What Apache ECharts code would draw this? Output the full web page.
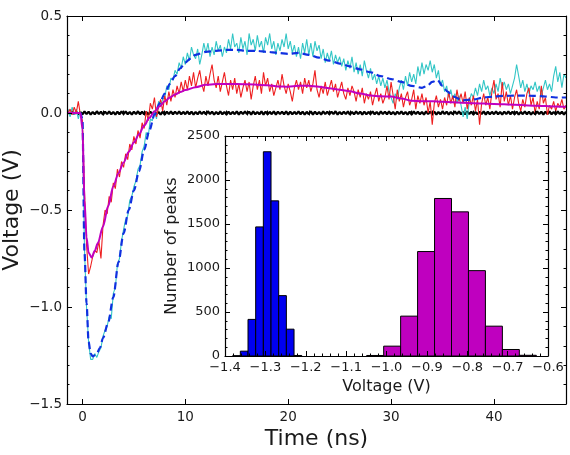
<!DOCTYPE html>
<html>
<head>
<meta charset="utf-8">
<script src="https://cdn.jsdelivr.net/npm/echarts@6/dist/echarts.min.js"></script>
<style>html,body{margin:0;padding:0;background:#fff;}#chart{width:570px;height:455px;}</style>
</head>
<body>
<div id="chart"></div>
<script>
// ---- sampled traces: t = timeStart + i*timeStep ----
const timeStart = -1.4;
const timeStep = 0.2;

const cyanTrace = [
0.02,-0.02,0.03,-0.01,0.02,-0.03,0.01,
-0.05,-0.70,-1.00,-1.18,-1.27,
-1.27,-1.24,-1.26,-1.23,-1.21,
-1.15,-1.12,-1.10,-1.05,-1.06,
-0.93,-0.90,-0.78,-0.75,-0.66,
-0.60,-0.55,-0.53,-0.45,-0.43,
-0.38,-0.35,-0.29,-0.27,-0.20,
-0.17,-0.10,-0.12,-0.03,-0.04,
0.01,-0.03,0.06,0.04,0.07,
0.08,0.14,0.12,0.18,0.17,
0.22,0.20,0.26,0.23,0.29,
0.25,0.31,0.27,0.34,0.30,
0.28,0.33,0.25,0.30,0.36,
0.31,0.36,0.29,0.34,0.30,
0.37,0.32,0.35,0.29,0.34,
0.31,0.38,0.33,0.41,0.34,
0.36,0.31,0.39,0.33,0.37,
0.30,0.41,0.35,0.38,0.32,
0.40,0.34,0.37,0.31,0.39,
0.35,0.41,0.33,0.37,0.30,
0.36,0.32,0.38,0.34,0.41,
0.33,0.37,0.31,0.35,0.29,
0.34,0.28,0.36,0.31,0.38,
0.30,0.36,0.29,0.37,0.32,
0.35,0.28,0.33,0.26,0.31,
0.27,0.32,0.25,0.30,0.26,
0.29,0.24,0.28,0.22,0.27,
0.23,0.29,0.21,0.26,0.20,
0.25,0.19,0.27,0.22,0.18,
0.23,0.17,0.20,0.15,0.19,
0.14,0.18,0.13,0.17,0.11,
0.08,0.05,0.10,0.07,0.13,
0.17,0.12,0.19,0.14,0.21,
0.16,0.20,0.15,0.24,0.19,
0.26,0.20,0.25,0.22,0.27,
0.21,0.25,0.18,0.22,0.14,
0.17,0.11,0.14,0.08,0.12,
0.07,0.10,0.05,0.09,0.04,
-0.02,0.03,-0.03,0.06,0.10,
0.08,0.13,0.09,0.15,0.11,
0.17,0.12,0.14,0.09,0.13,
0.10,0.15,0.11,0.18,0.13,
0.16,0.12,0.15,0.10,0.14,
0.18,0.25,0.19,0.13,0.17,
0.11,0.15,0.10,0.14,0.12,
0.16,0.11,0.14,0.09,0.13,
0.17,0.12,0.15,0.11,0.19,
0.24,0.16,0.21,0.13,0.20,
0.18
];

const redTrace = [
0.00,0.02,-0.01,0.03,0.00,0.06,-0.01,
-0.04,-0.40,-0.68,-0.83,-0.79,
-0.74,-0.71,-0.72,-0.66,-0.75,
-0.58,-0.50,-0.52,-0.43,-0.46,
-0.36,-0.39,-0.29,-0.33,-0.25,
-0.28,-0.21,-0.24,-0.16,-0.19,
-0.12,-0.16,-0.09,-0.13,-0.05,
-0.08,0.01,-0.04,0.05,0.02,
0.08,-0.02,0.03,0.07,0.01,
0.09,0.04,0.11,0.06,0.12,
0.08,0.14,0.10,0.16,0.11,
0.17,0.12,0.19,0.14,0.21,
0.13,0.18,0.22,0.15,0.11,
0.19,0.14,0.20,0.25,0.17,
0.13,0.19,0.11,0.16,0.21,
0.14,0.09,0.17,0.12,0.18,
0.10,0.15,0.08,0.13,0.17,
0.11,0.16,0.07,0.14,0.19,
0.12,0.17,0.10,0.21,0.14,
0.18,0.11,0.15,0.09,0.13,
0.17,0.12,0.20,0.14,0.10,
0.15,0.11,0.06,0.13,0.17,
0.12,0.16,0.10,0.18,0.13,
0.17,0.11,0.15,0.22,0.12,
0.08,0.14,0.10,0.16,0.09,
0.13,0.17,0.11,0.15,0.08,
0.12,0.16,0.10,0.07,0.13,
0.09,0.14,0.11,0.06,0.12,
0.08,0.13,0.05,0.10,0.07,
0.11,0.04,0.09,0.13,0.06,
0.10,0.05,0.08,0.14,0.07,
0.16,0.09,0.02,0.12,0.06,
0.10,0.03,0.08,0.11,0.04,
0.07,0.12,0.02,0.09,0.05,
0.10,0.04,0.08,0.00,0.06,
-0.06,0.05,0.09,0.03,0.07,
0.02,0.08,0.04,0.11,0.05,
0.09,0.03,0.12,0.06,0.10,
0.05,0.11,0.02,0.08,0.04,
0.09,0.01,0.07,-0.06,0.05,
0.10,0.04,0.08,0.02,0.11,
0.17,0.07,0.10,0.03,0.16,
0.06,0.11,0.04,0.09,0.02,
0.08,0.12,0.05,0.01,0.07,
0.03,0.10,0.13,0.04,0.08,
0.00,0.06,0.02,0.14,0.05,
0.08,-0.01,0.04,0.02,0.06,
0.01,0.05,0.03,0.07,0.02,
0.04
];

const blackTrace = [
0.006,-0.007,0.008,-0.006,0.007,-0.008,0.006,
-0.007,0.008,-0.006,0.007,-0.008,0.006,-0.007,0.009,-0.006,0.007,
-0.008,0.007,-0.006,0.008,-0.007,0.006,-0.008,0.007,-0.007,0.008,
-0.006,0.008,-0.007,0.006,-0.008,0.007,-0.006,0.009,-0.007,0.007,
-0.007,0.006,-0.008,0.007,-0.006,0.008,-0.007,0.006,-0.008,0.007,
-0.008,0.007,-0.006,0.008,-0.007,0.007,-0.006,0.008,-0.007,0.006,
-0.006,0.008,-0.007,0.007,-0.008,0.006,-0.007,0.008,-0.006,0.007,
-0.007,0.009,-0.006,0.007,-0.008,0.006,-0.007,0.008,-0.007,0.006,
-0.008,0.007,-0.007,0.006,-0.006,0.008,-0.008,0.007,-0.006,0.008,
-0.006,0.007,-0.008,0.008,-0.007,0.006,-0.007,0.008,-0.008,0.007,
-0.007,0.006,-0.006,0.008,-0.008,0.007,-0.006,0.007,-0.007,0.009,
-0.008,0.007,-0.007,0.006,-0.006,0.008,-0.007,0.007,-0.008,0.006,
-0.006,0.008,-0.008,0.007,-0.007,0.006,-0.008,0.008,-0.006,0.007,
-0.007,0.007,-0.006,0.009,-0.008,0.006,-0.007,0.007,-0.006,0.008,
-0.008,0.006,-0.007,0.008,-0.006,0.007,-0.008,0.007,-0.007,0.006,
-0.006,0.008,-0.007,0.006,-0.008,0.008,-0.006,0.007,-0.007,0.008,
-0.007,0.006,-0.008,0.007,-0.006,0.008,-0.007,0.006,-0.008,0.007,
-0.008,0.008,-0.006,0.007,-0.007,0.006,-0.008,0.008,-0.006,0.007,
-0.006,0.007,-0.008,0.006,-0.007,0.009,-0.006,0.007,-0.008,0.006,
-0.007,0.008,-0.006,0.008,-0.007,0.006,-0.007,0.008,-0.006,0.007,
-0.008,0.006,-0.007,0.007,-0.006,0.008,-0.008,0.007,-0.007,0.006,
-0.006,0.008,-0.007,0.006,-0.008,0.007,-0.006,0.008,-0.007,0.007,
-0.007,0.007,-0.008,0.006,-0.006,0.008,-0.007,0.007,-0.008,0.006,
-0.007,0.008,-0.006,0.007,-0.008,0.007,-0.006,0.008,-0.007,0.006,
-0.007,0.008,-0.006,0.007,-0.008,0.007
];

// ---- fitted curves ----
const blueFitT = [-1.4,-0.6,-0.2,0,0.2,0.4,0.6,0.8,1.0,1.4,1.7,2.0,2.5,3.0,3.5,4.0,4.5,5.0,5.5,6.0,6.5,7.0,7.5,8.0,8.5,9.0,9.5,10,10.5,11,12,13,14,15,16,17,18,19,20,21,22,23,24,25,26,27,28,29,30,31,32,33,33.5,34,34.5,35,35.5,36,37,38,39,40,41,42,43,44,45,46,47];
const blueFitV = [0,0,0,-0.03,-0.72,-0.98,-1.18,-1.24,-1.255,-1.24,-1.21,-1.16,-1.08,-0.95,-0.77,-0.62,-0.50,-0.40,-0.30,-0.19,-0.09,-0.01,0.05,0.10,0.15,0.19,0.23,0.26,0.28,0.30,0.315,0.32,0.325,0.325,0.32,0.32,0.315,0.31,0.305,0.31,0.30,0.285,0.27,0.255,0.24,0.225,0.21,0.19,0.175,0.16,0.14,0.13,0.14,0.16,0.17,0.14,0.11,0.085,0.065,0.07,0.08,0.085,0.088,0.09,0.09,0.088,0.085,0.08,0.08];

const magFitT = [-1.4,-0.2,0,0.2,0.4,0.6,0.9,1.2,1.5,2.0,2.5,3.0,3.5,4.0,4.5,5.0,5.5,6.0,6.5,7.0,7.5,8.0,8.5,9.0,9.5,10,11,12,13,14,16,18,19,20,21,22,23,24,25,26,27,28,29,30,31,32,33,34,35,36,37,38,40,42,44,46,47];
const magFitV = [0,0,-0.08,-0.45,-0.64,-0.72,-0.745,-0.71,-0.67,-0.585,-0.48,-0.378,-0.31,-0.255,-0.20,-0.152,-0.11,-0.065,-0.025,0.008,0.035,0.06,0.08,0.095,0.108,0.118,0.133,0.145,0.15,0.15,0.148,0.143,0.137,0.135,0.14,0.14,0.135,0.127,0.12,0.112,0.10,0.09,0.086,0.085,0.075,0.063,0.06,0.06,0.058,0.055,0.053,0.05,0.047,0.043,0.038,0.034,0.032];

// ---- inset histograms ----
const blueBinEdges = [-1.381,-1.362,-1.343,-1.324,-1.305,-1.286,-1.267,-1.248,-1.229,-1.210];
const blueCounts = [3,55,416,1467,2321,1763,686,305,6];
const magentaBinEdges = [-1.049,-1.007,-0.965,-0.923,-0.881,-0.839,-0.797,-0.755,-0.713,-0.671,-0.629];
const magentaCounts = [6,112,453,1187,1790,1638,970,339,74,8];

// ---- tick values ----
const mainXMajor = [0,10,20,30,40];
const mainXMinor = [2,4,6,8,12,14,16,18,22,24,26,28,32,34,36,38,42,44,46];

// ---- build ----
const toPairs = arr => arr.map((v, i) => [+(timeStart + i * timeStep).toFixed(2), v]);
const zip = (t, v) => t.map((x, i) => [x, v[i]]);
const bins = (edges, counts) => counts.map((c, i) => [edges[i], edges[i + 1], c]);
const fmt1 = v => { const s = Math.abs(v).toFixed(1); return v < -1e-9 ? '\u2212' + s : s; };
const fmtInt = v => String(Math.round(v));

const FONT = 'DejaVu Sans';
const TXT = '#1a1a1a';
const axLine = { show: true, onZero: false, lineStyle: { color: '#000', width: 1.2 } };

function histItem(color) {
  return function (params, api) {
    const p0 = api.coord([api.value(0), api.value(2)]);
    const p1 = api.coord([api.value(1), 0]);
    return {
      type: 'rect',
      shape: { x: p0[0], y: p0[1], width: p1[0] - p0[0], height: p1[1] - p0[1] },
      style: { fill: color, stroke: '#000', lineWidth: 1 }
    };
  };
}

const chart = echarts.init(document.getElementById('chart'), null, { renderer: 'canvas' });
chart.setOption({
  animation: false,
  backgroundColor: '#fff',
  textStyle: { fontFamily: FONT },
  grid: [
    { left: 67, top: 16, width: 499, height: 388, show: false, containLabel: false, outerBoundsMode: 'none' },
    { left: 225, top: 136, width: 323, height: 220, show: true, backgroundColor: '#fff', borderWidth: 0, z: 1,
      containLabel: false, outerBoundsMode: 'none' }
  ],
  xAxis: [
    { gridIndex: 0, type: 'value', min: -1.5, max: 47, position: 'bottom', z: 5,
      axisLine: axLine,
      axisTick: { show: true, inside: true, length: 5, customValues: mainXMajor, lineStyle: { color: '#000' } },
      axisLabel: { show: true, customValues: mainXMajor, margin: 6, fontSize: 13.5, color: TXT, fontFamily: FONT },
      splitLine: { show: false },
      name: 'Time (ns)', nameLocation: 'middle', nameGap: 24, nameMoveOverlap: false,
      nameTextStyle: { fontSize: 22, color: TXT, fontFamily: FONT } },
    { gridIndex: 0, type: 'value', min: -1.5, max: 47, position: 'bottom', z: 5,
      axisLine: { show: false },
      axisTick: { show: true, inside: true, length: 2.5, customValues: mainXMinor, lineStyle: { color: '#000' } },
      axisLabel: { show: false }, splitLine: { show: false } },
    { gridIndex: 0, type: 'value', min: -1.5, max: 47, position: 'top', z: 5,
      axisLine: axLine,
      axisTick: { show: true, inside: true, length: 5, customValues: mainXMajor, lineStyle: { color: '#000' } },
      axisLabel: { show: false }, splitLine: { show: false } },
    { gridIndex: 0, type: 'value', min: -1.5, max: 47, position: 'top', z: 5,
      axisLine: { show: false },
      axisTick: { show: true, inside: true, length: 2.5, customValues: mainXMinor, lineStyle: { color: '#000' } },
      axisLabel: { show: false }, splitLine: { show: false } },
    { gridIndex: 1, type: 'value', min: -1.4, max: -0.6, interval: 0.1, position: 'bottom', z: 6,
      axisLine: axLine,
      axisTick: { show: true, inside: true, length: 5, lineStyle: { color: '#000' } },
      minorTick: { show: true, splitNumber: 5, length: 2.5, lineStyle: { color: '#000' } },
      axisLabel: { show: true, margin: 5, fontSize: 13, color: TXT, fontFamily: FONT, formatter: fmt1 },
      splitLine: { show: false },
      name: 'Voltage (V)', nameLocation: 'middle', nameGap: 23, nameMoveOverlap: false,
      nameTextStyle: { fontSize: 16, color: TXT, fontFamily: FONT } },
    { gridIndex: 1, type: 'value', min: -1.4, max: -0.6, interval: 0.1, position: 'top', z: 6,
      axisLine: axLine,
      axisTick: { show: true, inside: true, length: 5, lineStyle: { color: '#000' } },
      minorTick: { show: true, splitNumber: 5, length: 2.5, lineStyle: { color: '#000' } },
      axisLabel: { show: false }, splitLine: { show: false } }
  ],
  yAxis: [
    { gridIndex: 0, type: 'value', min: -1.5, max: 0.5, interval: 0.5, position: 'left', z: 5,
      axisLine: axLine,
      axisTick: { show: true, inside: true, length: 5, lineStyle: { color: '#000' } },
      minorTick: { show: true, splitNumber: 5, length: 2.5, lineStyle: { color: '#000' } },
      axisLabel: { show: true, margin: 5, fontSize: 13.5, color: TXT, fontFamily: FONT, formatter: fmt1 },
      splitLine: { show: false },
      name: 'Voltage (V)', nameLocation: 'middle', nameGap: 44, nameMoveOverlap: false,
      nameTextStyle: { fontSize: 22, color: TXT, fontFamily: FONT } },
    { gridIndex: 0, type: 'value', min: -1.5, max: 0.5, interval: 0.5, position: 'right', z: 5,
      axisLine: axLine,
      axisTick: { show: true, inside: true, length: 5, lineStyle: { color: '#000' } },
      minorTick: { show: true, splitNumber: 5, length: 2.5, lineStyle: { color: '#000' } },
      axisLabel: { show: false }, splitLine: { show: false } },
    { gridIndex: 1, type: 'value', min: 0, max: 2500, interval: 500, position: 'left', z: 6,
      axisLine: axLine,
      axisTick: { show: true, inside: true, length: 5, lineStyle: { color: '#000' } },
      minorTick: { show: true, splitNumber: 5, length: 2.5, lineStyle: { color: '#000' } },
      axisLabel: { show: true, margin: 5, fontSize: 13, color: TXT, fontFamily: FONT, formatter: fmtInt },
      splitLine: { show: false },
      name: 'Number of peaks', nameLocation: 'middle', nameGap: 45, nameMoveOverlap: false,
      nameTextStyle: { fontSize: 16, color: TXT, fontFamily: FONT } },
    { gridIndex: 1, type: 'value', min: 0, max: 2500, interval: 500, position: 'right', z: 6,
      axisLine: axLine,
      axisTick: { show: true, inside: true, length: 5, lineStyle: { color: '#000' } },
      minorTick: { show: true, splitNumber: 5, length: 2.5, lineStyle: { color: '#000' } },
      axisLabel: { show: false }, splitLine: { show: false } }
  ],
  series: [
    { type: 'line', xAxisIndex: 0, yAxisIndex: 0, data: toPairs(blackTrace), symbol: 'none',
      lineStyle: { color: '#000', width: 2.2 }, z: 2 },
    { type: 'line', xAxisIndex: 0, yAxisIndex: 0, data: toPairs(cyanTrace), symbol: 'none',
      lineStyle: { color: '#33c6c6', width: 1.1 }, z: 2 },
    { type: 'line', xAxisIndex: 0, yAxisIndex: 0, data: toPairs(redTrace), symbol: 'none',
      lineStyle: { color: '#ee2020', width: 1.1 }, z: 2 },
    { type: 'line', xAxisIndex: 0, yAxisIndex: 0, data: zip(blueFitT, blueFitV), symbol: 'none',
      smooth: 0.3, smoothMonotone: 'x',
      lineStyle: { color: '#1030e0', width: 2.2, type: [7, 4] }, z: 2 },
    { type: 'line', xAxisIndex: 0, yAxisIndex: 0, data: zip(magFitT, magFitV), symbol: 'none',
      smooth: 0.3, smoothMonotone: 'x',
      lineStyle: { color: '#c000c0', width: 2 }, z: 2 },
    { type: 'custom', xAxisIndex: 4, yAxisIndex: 2, data: bins(blueBinEdges, blueCounts),
      encode: { x: [0, 1], y: 2 }, renderItem: histItem('#0000f0'), z: 4 },
    { type: 'custom', xAxisIndex: 4, yAxisIndex: 2, data: bins(magentaBinEdges, magentaCounts),
      encode: { x: [0, 1], y: 2 }, renderItem: histItem('#bf00bf'), z: 4 }
  ]
});
</script>
</body>
</html>
